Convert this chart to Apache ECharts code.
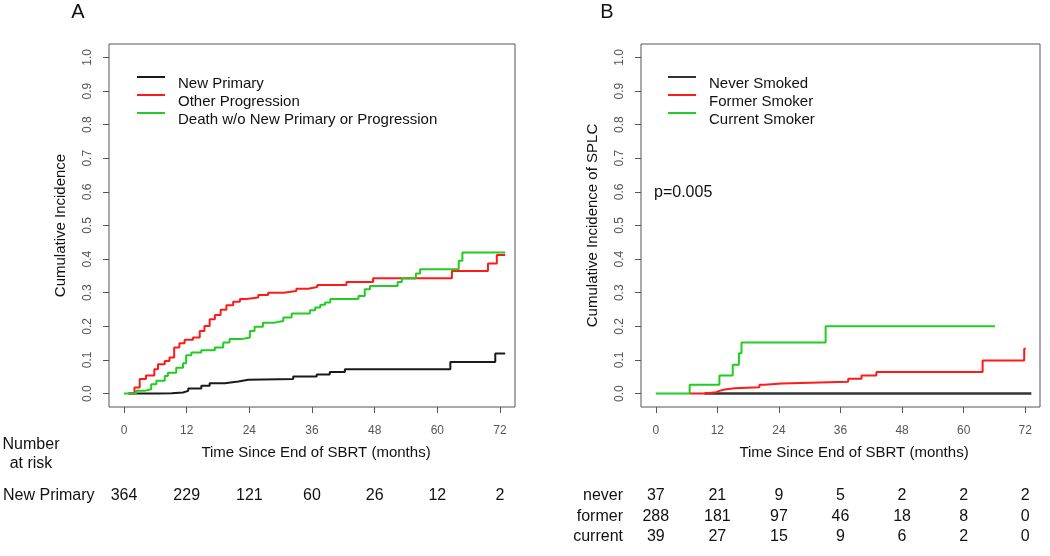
<!DOCTYPE html>
<html><head><meta charset="utf-8">
<script src="https://cdn.jsdelivr.net/npm/echarts@6/dist/echarts.min.js"></script>
<style>html,body{margin:0;padding:0;background:#fff}#c{width:1050px;height:556px}</style>
</head><body><div id="c"></div><script>
// ---- tick labels ----
const xTicks = [0, 12, 24, 36, 48, 60, 72];
const yTicks = [0, 0.1, 0.2, 0.3, 0.4, 0.5, 0.6, 0.7, 0.8, 0.9, 1.0];

// ---- Panel A: competing risks ----
const seriesNamesA = ['New Primary', 'Other Progression', 'Death w/o New Primary or Progression'];
const newPrimaryT = [0.8, 6.5, 9.1, 11.3, 12.3, 14.8, 16.4, 19.3, 21.9, 23.8, 32.4, 36.9, 39.4, 42.3, 62.5, 71.1, 73.0];
const newPrimaryV = [0, 0.001, 0.003, 0.008, 0.015, 0.023, 0.031, 0.036, 0.041, 0.043, 0.051, 0.057, 0.064, 0.072, 0.094, 0.119, 0.119];
const otherProgT = [1.0, 2.0, 3.0, 4.2, 5.8, 6.5, 7.8, 8.7, 9.6, 10.6, 11.6, 13.2, 14.5, 15.4, 16.4, 17.4, 18.5, 19.6, 20.9, 22.2, 23.4, 25.7, 27.6, 30.5, 33.0, 35.3, 37.0, 42.6, 47.7, 62.8, 69.7, 71.4, 73.0];
const otherProgV = [0, 0.018, 0.043, 0.054, 0.072, 0.087, 0.097, 0.107, 0.137, 0.150, 0.160, 0.167, 0.186, 0.201, 0.221, 0.234, 0.249, 0.263, 0.273, 0.281, 0.286, 0.293, 0.300, 0.305, 0.312, 0.317, 0.323, 0.332, 0.343, 0.365, 0.387, 0.412, 0.412];
const deathT = [0, 1.0, 2.3, 3.9, 5.2, 6.2, 7.8, 8.4, 10.0, 11.3, 11.9, 12.9, 14.8, 17.4, 19.0, 20.2, 22.5, 24.1, 25.0, 26.6, 28.8, 30.5, 32.1, 35.6, 36.6, 37.6, 38.5, 39.5, 44.9, 46.1, 47.1, 52.4, 53.2, 55.9, 56.7, 64.1, 64.8, 73.0];
const deathV = [0, 0, 0.008, 0.013, 0.028, 0.038, 0.052, 0.062, 0.077, 0.090, 0.114, 0.122, 0.129, 0.137, 0.152, 0.162, 0.167, 0.186, 0.199, 0.211, 0.216, 0.226, 0.238, 0.248, 0.256, 0.264, 0.271, 0.281, 0.290, 0.310, 0.320, 0.332, 0.342, 0.357, 0.370, 0.395, 0.420, 0.420];

// ---- Panel B: SPLC by smoking status ----
const seriesNamesB = ['Never Smoked', 'Former Smoker', 'Current Smoker'];
const neverT = [9.5, 73.2];
const neverV = [0, 0];
const formerT = [6.6, 9.5, 11.8, 12.4, 13.4, 15.4, 20.2, 21.2, 24.5, 37.5, 40.1, 43.0, 63.7, 71.8, 72.1];
const formerV = [0, 0.004, 0.008, 0.012, 0.016, 0.019, 0.026, 0.030, 0.035, 0.044, 0.054, 0.064, 0.098, 0.133, 0.133];
const currentT = [0, 6.6, 12.4, 15.0, 16.2, 16.7, 33.1, 66.1];
const currentV = [0, 0.026, 0.054, 0.086, 0.120, 0.152, 0.200, 0.200];

// ---- Numbers at risk ----
const riskTimes = [0, 12, 24, 36, 48, 60, 72];
const riskNewPrimary = [364, 229, 121, 60, 26, 12, 2];
const riskNever = [37, 21, 9, 5, 2, 2, 2];
const riskFormer = [288, 181, 97, 46, 18, 8, 0];
const riskCurrent = [39, 27, 15, 9, 6, 2, 0];

const colors = ['#1a1a1a', '#ff1a1a', '#22cc22'];
const FONT = 'Liberation Sans, Arial, Helvetica, sans-serif';
const zip = (t, v) => t.map((x, i) => [x, v[i]]);

const chart = echarts.init(document.getElementById('c'));

function xAxisDef(gi) {
  return {
    type: 'value', gridIndex: gi, min: -2.88, max: 74.88,
    axisLine: { show: false, onZero: false },
    splitLine: { show: false },
    axisTick: { show: true, inside: false, length: 6, customValues: xTicks, lineStyle: { color: '#555' } },
    axisLabel: { customValues: xTicks, color: '#555', fontSize: 12, fontFamily: FONT, margin: 18 }
  };
}
function yAxisDef(gi, name) {
  return {
    type: 'value', gridIndex: gi, min: -0.04, max: 1.04,
    axisLine: { show: false, onZero: false },
    splitLine: { show: false },
    axisTick: { show: true, inside: false, length: 6, customValues: yTicks, lineStyle: { color: '#555' } },
    axisLabel: { customValues: yTicks, color: '#555', fontSize: 12, fontFamily: FONT, rotate: 90, margin: 15,
      formatter: v => v.toFixed(1) },
    name: name, nameLocation: 'middle', nameGap: 41,
    nameTextStyle: { color: '#111', fontSize: 15, fontFamily: FONT }
  };
}
function stepSeries(name, t, v, color, xi, width) {
  return {
    type: 'line', name: name, xAxisIndex: xi, yAxisIndex: xi,
    data: zip(t, v), step: 'end', symbol: 'none', showSymbol: false,
    lineStyle: { color: color, width: width || 2 }, itemStyle: { color: color },
    animation: false, silent: true
  };
}
const legendIcon = 'path://M0,0H28V2H0Z M0,15.99H0.01V16H0Z';
function legendDef(left, names) {
  return {
    orient: 'vertical', left: left, top: 76, padding: 0,
    itemWidth: 28, itemHeight: 16, itemGap: 2, icon: legendIcon,
    selectedMode: false, data: names,
    itemStyle: { borderWidth: 0 },
    textStyle: { color: '#111', fontSize: 15, fontFamily: FONT, lineHeight: 16, padding: [0, 0, 0, 8] }
  };
}

chart.setOption({
  animation: false,
  grid: [
    { left: 109, top: 44, width: 406, height: 363, show: true, borderColor: '#555', borderWidth: 1 },
    { left: 641, top: 44, width: 399, height: 363, show: true, borderColor: '#555', borderWidth: 1 }
  ],
  xAxis: [xAxisDef(0), xAxisDef(1)],
  yAxis: [yAxisDef(0, 'Cumulative Incidence'), yAxisDef(1, 'Cumulative Incidence of SPLC')],
  legend: [legendDef(137, seriesNamesA), legendDef(668, seriesNamesB)],
  series: [
    stepSeries(seriesNamesA[0], newPrimaryT, newPrimaryV, colors[0], 0),
    stepSeries(seriesNamesA[1], otherProgT, otherProgV, colors[1], 0),
    stepSeries(seriesNamesA[2], deathT, deathV, colors[2], 0),
    stepSeries(seriesNamesB[0], neverT, neverV, '#333', 1, 2.5),
    stepSeries(seriesNamesB[1], formerT, formerV, colors[1], 1),
    stepSeries(seriesNamesB[2], currentT, currentV, colors[2], 1)
  ]
});

// ---- text: panel letters, x titles, p-value, numbers at risk ----
function txt(text, x, y, size, align, color) {
  return { type: 'text', x: x, y: y, silent: true,
    style: { text: text, fill: color || '#111', font: size + 'px ' + FONT,
      textAlign: align || 'center', textVerticalAlign: 'middle' } };
}
const g = [];
g.push(txt('A', 78, 12, 20));
g.push(txt('B', 607, 12, 20));
g.push(txt('Time Since End of SBRT (months)', 316, 453, 15));
g.push(txt('Time Since End of SBRT (months)', 854, 453, 15));
g.push(txt('p=0.005', 654, 193, 16, 'left'));
g.push(txt('Number', 31, 445, 16));
g.push(txt('at risk', 31, 464, 16));
g.push(txt('New Primary', 3, 496, 16, 'left'));
const rowsB = [['never', riskNever, 496], ['former', riskFormer, 516.5], ['current', riskCurrent, 537]];
riskTimes.forEach((t, i) => {
  const xa = chart.convertToPixel({ xAxisIndex: 0 }, t);
  g.push(txt(String(riskNewPrimary[i]), xa, 496, 16));
  const xb = chart.convertToPixel({ xAxisIndex: 1 }, t);
  rowsB.forEach(r => g.push(txt(String(r[1][i]), xb, r[2], 16)));
});
rowsB.forEach(r => g.push(txt(r[0], 623, r[2], 16, 'right')));
chart.setOption({ graphic: g });
</script></body></html>
